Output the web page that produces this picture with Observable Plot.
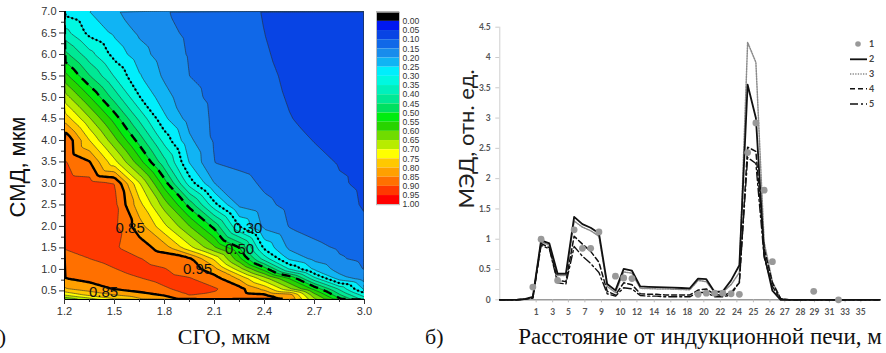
<!DOCTYPE html>
<html><head><meta charset="utf-8">
<script src="https://cdn.jsdelivr.net/npm/d3@7"></script>
<script src="https://cdn.jsdelivr.net/npm/@observablehq/plot@0.6"></script>
<style>
body{margin:0;background:#fff;}
#wrap{position:relative;width:886px;height:353px;overflow:hidden;background:#fff;}
#wrap > svg, #wrap > div{position:absolute;}
</style></head><body><div id="wrap"></div>
<script>
// ---------- Panel а): contour map data ----------
const sgo = [1.2, 1.35, 1.5, 1.65, 1.8, 1.95, 2.1, 2.25, 2.4, 2.55, 2.7, 2.85, 3.0];
const smd = [7.0, 6.5, 6.0, 5.5, 5.0, 4.5, 4.0, 3.5, 3.0, 2.5, 2.0, 1.5, 1.25, 1.0, 0.8, 0.55, 0.4, 0.3];
const z_7_0  = [0.283, 0.25, 0.206, 0.178, 0.153, 0.139, 0.125, 0.111, 0.098, 0.091, 0.084, 0.079, 0.075];
const z_6_5  = [0.37, 0.285, 0.241, 0.192, 0.162, 0.142, 0.128, 0.114, 0.1, 0.093, 0.087, 0.081, 0.077];
const z_6_0  = [0.468, 0.369, 0.282, 0.221, 0.175, 0.146, 0.132, 0.117, 0.102, 0.094, 0.088, 0.083, 0.078];
const z_5_5  = [0.569, 0.453, 0.346, 0.255, 0.191, 0.15, 0.135, 0.12, 0.105, 0.096, 0.089, 0.084, 0.079];
const z_5_0  = [0.676, 0.555, 0.43, 0.303, 0.22, 0.163, 0.139, 0.123, 0.108, 0.098, 0.091, 0.085, 0.08];
const z_4_5  = [0.783, 0.657, 0.53, 0.389, 0.261, 0.179, 0.142, 0.128, 0.115, 0.101, 0.094, 0.088, 0.082];
const z_4_0  = [0.899, 0.751, 0.616, 0.479, 0.331, 0.211, 0.144, 0.132, 0.121, 0.11, 0.099, 0.093, 0.088];
const z_3_5  = [0.905, 0.853, 0.715, 0.57, 0.415, 0.246, 0.149, 0.139, 0.128, 0.118, 0.108, 0.098, 0.094];
const z_3_0  = [0.925, 0.92, 0.901, 0.704, 0.524, 0.327, 0.2, 0.166, 0.143, 0.13, 0.117, 0.103, 0.095];
const z_2_5  = [0.93, 0.93, 0.915, 0.768, 0.627, 0.483, 0.317, 0.19, 0.159, 0.14, 0.126, 0.111, 0.097];
const z_2_0  = [0.93, 0.93, 0.91, 0.823, 0.712, 0.602, 0.485, 0.3, 0.186, 0.148, 0.134, 0.12, 0.105];
const z_1_5  = [0.902, 0.91, 0.905, 0.877, 0.825, 0.717, 0.61, 0.502, 0.289, 0.19, 0.161, 0.145, 0.135];
const z_1_25 = [0.885, 0.9, 0.915, 0.902, 0.881, 0.858, 0.738, 0.562, 0.374, 0.24, 0.186, 0.154, 0.14];
const z_1_0  = [0.865, 0.88, 0.898, 0.915, 0.903, 0.876, 0.821, 0.676, 0.531, 0.35, 0.242, 0.18, 0.148];
const z_0_8  = [0.85, 0.866, 0.884, 0.899, 0.915, 0.902, 0.867, 0.787, 0.664, 0.542, 0.359, 0.219, 0.17];
const z_0_55 = [0.795, 0.826, 0.853, 0.874, 0.895, 0.915, 0.905, 0.867, 0.782, 0.658, 0.533, 0.388, 0.24];
const z_0_4  = [0.7, 0.76, 0.797, 0.826, 0.853, 0.9, 0.893, 0.876, 0.861, 0.83, 0.621, 0.461, 0.33];
const z_0_3  = [0.6, 0.67, 0.74, 0.79, 0.82, 0.87, 0.89, 0.875, 0.862, 0.85, 0.66, 0.52, 0.38];
const zRows = [z_7_0, z_6_5, z_6_0, z_5_5, z_5_0, z_4_5, z_4_0, z_3_5, z_3_0, z_2_5, z_2_0, z_1_5, z_1_25, z_1_0, z_0_8, z_0_55, z_0_4, z_0_3];

const levels = [0, 0.05, 0.1, 0.15, 0.2, 0.25, 0.3, 0.35, 0.4, 0.45, 0.5, 0.55, 0.6, 0.65, 0.7, 0.75, 0.8, 0.85, 0.9, 0.95];
const bandColors = ["#0018f0", "#0844e4", "#1068e8", "#188cec", "#10b4f4", "#00eefc", "#00f8e0", "#00f0bc", "#00e894", "#00e060",
                    "#00ec10", "#28d400", "#70dc00", "#b8ec00", "#ffff00", "#ffc800", "#ffa000", "#ff7000", "#ff3800", "#ff0000"];
const cbTicks = [0, 0.05, 0.1, 0.15, 0.2, 0.25, 0.3, 0.35, 0.4, 0.45, 0.5, 0.55, 0.6, 0.65, 0.7, 0.75, 0.8, 0.85, 0.9, 0.95, 1.0];
const xTicksA = [1.2, 1.5, 1.8, 2.1, 2.4, 2.7, 3.0];
const xMinorA = [1.35, 1.65, 1.95, 2.25, 2.55, 2.85];
const yTicksA = [0.5, 1.0, 1.5, 2.0, 2.5, 3.0, 3.5, 4.0, 4.5, 5.0, 5.5, 6.0, 6.5, 7.0];
const yMinorA = [0.75, 1.25, 1.75, 2.25, 2.75, 3.25, 3.75, 4.25, 4.75, 5.25, 5.75, 6.25, 6.75];
const contourLabelText = ["0.85", "0.30", "0.50", "0.95", "0.85"];
const contourLabelX = [1.594, 2.30, 2.25, 1.998, 1.434];
const contourLabelY = [1.97, 1.97, 1.48, 1.0, 0.47];

// ---------- Panel б): line chart data ----------
const pos = [0,1,2,3,4,5,6,7,8,9,10,11,12,13,14,15,16,17,18,19,20,21,22,23,24,25,26,27,28,29,30,31,32,33,34,35,36,37,38,39,40,41,42,43,44,45,46];
const s2 = [0,0,0,0.01,0.05,0.98,0.93,0.43,0.43,1.37,1.25,1.19,1.1,0.26,0.155,0.51,0.48,0.22,0.215,0.21,0.205,0.2,0.195,0.19,0.35,0.34,0.13,0.14,0.32,0.57,3.55,3.0,0.75,0.15,0,0,0,0,0,0,0,0,0,0,0,0,0];
const s3 = [0,0,0,0.01,0.04,0.96,0.9,0.4,0.4,1.3,1.2,1.14,1.05,0.22,0.12,0.46,0.44,0.19,0.185,0.18,0.18,0.175,0.17,0.165,0.32,0.3,0.12,0.13,0.25,0.45,4.25,3.92,0.95,0.3,0.02,0,0,0,0,0,0,0,0,0,0,0,0];
const s4 = [0,0,0,0.01,0.03,0.93,0.86,0.32,0.3,1.05,0.92,0.8,0.62,0.14,0.08,0.28,0.25,0.1,0.09,0.09,0.08,0.08,0.08,0.08,0.16,0.18,0.09,0.07,0.12,0.28,2.52,2.45,0.85,0.28,0.02,0,0,0,0,0,0,0,0,0,0,0,0];
const s5 = [0,0,0,0.01,0.03,0.9,0.84,0.28,0.26,0.88,0.72,0.6,0.45,0.1,0.06,0.2,0.18,0.07,0.06,0.06,0.05,0.05,0.05,0.05,0.12,0.12,0.05,0.05,0.08,0.3,2.35,2.25,0.7,0.22,0.01,0,0,0,0,0,0,0,0,0,0,0,0];
const dotPos = [4,5,7,9,10,11,12,14,15,16,24,25,26,27,28,29,30,31,32,33,38,41];
const s1 = [0.21,1.0,0.32,1.155,0.85,0.85,1.12,0.39,0.36,0.35,0.09,0.11,0.11,0.11,0.10,0.09,2.43,2.92,1.81,0.63,0.14,0.0];
const xTickPosB = [4.4, 6.4, 8.3, 10.3, 12.3, 14.6, 16.6, 18.7, 20.7, 22.7, 24.7, 26.7, 28.7, 30.7, 32.7, 34.5, 36.4, 38.1, 39.9, 41.8, 43.7];
const xTickLabelB = ["1","3","5","7","9","10","12","14","16","18","20","22","24","25","26","27","28","29","31","33","35"];
const yTicksB = [0, 0.5, 1, 1.5, 2, 2.5, 3, 3.5, 4, 4.5];
const legendLabels = ["1", "2", "3", "4", "5"];

// ---------- build ----------
const wrap = document.getElementById("wrap");
const grid = [];
zRows.forEach((row, j) => row.forEach((v, i) => grid.push({x: sgo[i], y: smd[j], v})));
const cOpt = {x: "x", y: "y", interpolate: "barycentric", x1: 1.14, x2: 3.06, y1: 0.2, y2: 7.1, clip: true};

const left = Plot.plot({
  width: 372, height: 322, marginLeft: 64, marginRight: 8, marginTop: 11, marginBottom: 23,
  x: {domain: [1.2, 3.0]},
  y: {domain: [0.3, 7.0]},
  color: {type: "ordinal", domain: levels, range: bandColors},
  style: {fontFamily: "'Liberation Sans', Arial, sans-serif", fontSize: "11px", background: "transparent", overflow: "visible"},
  marks: [
    Plot.contour(grid, {...cOpt, fill: "v", thresholds: levels}),
    Plot.contour(grid, {...cOpt, value: "v", thresholds: levels.slice(1), fill: "none", stroke: "#2a2a2a", strokeWidth: 0.6}),
    Plot.contour(grid, {...cOpt, value: "v", thresholds: [0.3], fill: "none", stroke: "#000", strokeWidth: 2.3, strokeDasharray: "0.1,4.2", strokeLinecap: "round"}),
    Plot.contour(grid, {...cOpt, value: "v", thresholds: [0.5], fill: "none", stroke: "#000", strokeWidth: 2.4, strokeDasharray: "9,6"}),
    Plot.contour(grid, {...cOpt, value: "v", thresholds: [0.85], fill: "none", stroke: "#000", strokeWidth: 2.4}),
    Plot.text(contourLabelText, {x: (d, i) => contourLabelX[i], y: (d, i) => contourLabelY[i], text: d => d, fontSize: 15, fill: "#111"}),
    Plot.ruleX([1.2], {stroke: "#000"}),
    Plot.ruleY([0.3], {stroke: "#000"}),
    Plot.axisX({ticks: xTicksA, tickFormat: ".1f", tickSize: 5, tickPadding: 3, label: null, color: "#333"}),
    Plot.axisX({ticks: xMinorA, tickFormat: () => "", tickSize: 3, label: null, color: "#333"}),
    Plot.axisY({ticks: yTicksA, tickFormat: ".1f", tickSize: 5, tickPadding: 3, label: null, color: "#333"}),
    Plot.axisY({ticks: yMinorA, tickFormat: () => "", tickSize: 3, label: null, color: "#333"})
  ]
});
left.style.left = "0px"; left.style.top = "0px";
wrap.appendChild(left);

const cbLo = [-0.05, ...levels];
const cbColors = ["#000000", ...bandColors];
const bar = Plot.plot({
  width: 60, height: 216, marginLeft: 10, marginRight: 27, marginTop: 11.7, marginBottom: 11.8,
  x: {axis: null},
  y: {domain: [-0.05, 1.0], reverse: true, axis: null},
  color: {type: "identity"},
  style: {fontFamily: "'Liberation Sans', Arial, sans-serif", background: "transparent", overflow: "visible"},
  marks: [
    Plot.rect(cbLo, {y1: d => d, y2: d => d + 0.05, fill: (d, i) => cbColors[i]}),
    Plot.frame({stroke: "#bbb"}),
    Plot.axisY({anchor: "right", ticks: cbTicks, tickFormat: ".2f", tickSize: 0, tickPadding: 3, fontSize: 8.6, label: null, color: "#333"})
  ]
});
bar.style.left = "366px"; bar.style.top = "0px";
wrap.appendChild(bar);

const lineRows = pos.map((p, i) => ({p, s2: s2[i], s3: s3[i], s4: s4[i], s5: s5[i]}));
const dotRows = dotPos.map((p, i) => ({p, v: s1[i]}));
const right = Plot.plot({
  width: 446, height: 322, marginLeft: 59.3, marginRight: 6.7, marginTop: 26.7, marginBottom: 22.7,
  x: {domain: [0, 46]},
  y: {domain: [0, 4.5]},
  style: {fontFamily: "Lato, 'Open Sans', sans-serif", background: "transparent", overflow: "visible"},
  marks: [
    Plot.ruleX([0], {stroke: "#cfcfcf"}),
    Plot.ruleY([0], {stroke: "#9a9a9a", strokeWidth: 1.5}),
    Plot.axisY({ticks: yTicksB, tickFormat: d => String(d), tickSize: 4, tickPadding: 5, fontSize: 8.5, fontWeight: "bold", label: null, color: "#555", stroke: "#ccc"}),
    Plot.axisX({ticks: xTickPosB, tickFormat: d => xTickLabelB[xTickPosB.indexOf(d)], tickSize: 3, tickPadding: 6, fontSize: 8.5, fontWeight: "bold", label: null, color: "#555", stroke: "#bbb"}),
    Plot.line(lineRows, {x: "p", y: "s3", stroke: "#8a8a8a", strokeWidth: 1.5, strokeDasharray: "1.3,1.3"}),
    Plot.line(lineRows, {x: "p", y: "s5", stroke: "#111", strokeWidth: 1.4, strokeDasharray: "8,3,2,3"}),
    Plot.line(lineRows, {x: "p", y: "s4", stroke: "#111", strokeWidth: 1.5, strokeDasharray: "5,3"}),
    Plot.line(lineRows, {x: "p", y: "s2", stroke: "#111", strokeWidth: 1.8}),
    Plot.dot(dotRows, {x: "p", y: "v", r: 3.4, fill: "#999", stroke: "none"})
  ]
});
right.style.left = "440px"; right.style.top = "0px";
wrap.appendChild(right);

// ---------- overlay texts & legend ----------
const ov = d3.create("svg").attr("width", 886).attr("height", 353).style("left", "0px").style("top", "0px").style("pointer-events", "none");
const serif = "'Liberation Serif', 'Times New Roman', serif";
ov.append("text").attr("x", 224).attr("y", 344).attr("text-anchor", "middle").attr("font-family", serif).attr("font-size", 22).attr("fill", "#111").text("СГО, мкм");
ov.append("text").attr("x", 6).attr("y", 344).attr("text-anchor", "end").attr("font-family", serif).attr("font-size", 22).attr("fill", "#111").text("а)");
ov.append("text").attr("x", 425).attr("y", 344).attr("font-family", serif).attr("font-size", 22).attr("fill", "#111").text("б)");
ov.append("text").attr("x", 700).attr("y", 344).attr("text-anchor", "middle").attr("font-family", serif).attr("font-size", 23).attr("fill", "#111").text("Расстояние от индукционной печи, м");
ov.append("text").attr("transform", "translate(25,167) rotate(-90)").attr("text-anchor", "middle").attr("font-family", "'Liberation Sans', Arial, sans-serif").attr("font-size", 22).attr("fill", "#111").text("СМД, мкм");
ov.append("text").attr("transform", "translate(474,139) rotate(-90)").attr("text-anchor", "middle").attr("font-family", "Lato, 'Open Sans', sans-serif").attr("font-size", 22).attr("fill", "#222").text("МЭД, отн. ед.");
const legY = [44, 59.3, 74, 88.7, 104];
const legStyles = [null, {c: "#111", w: 1.8, d: null}, {c: "#8a8a8a", w: 1.5, d: "1.3,1.3"}, {c: "#111", w: 1.5, d: "5,3"}, {c: "#111", w: 1.4, d: "8,3,2,3"}];
legendLabels.forEach((lab, i) => {
  if (i === 0) ov.append("circle").attr("cx", 858).attr("cy", legY[i]).attr("r", 2.8).attr("fill", "#999");
  else {
    const s = legStyles[i];
    const l = ov.append("line").attr("x1", 850).attr("x2", 867).attr("y1", legY[i]).attr("y2", legY[i]).attr("stroke", s.c).attr("stroke-width", s.w);
    if (s.d) l.attr("stroke-dasharray", s.d);
  }
  ov.append("text").attr("x", 869).attr("y", legY[i] + 3).attr("font-family", "Lato, 'Open Sans', sans-serif").attr("font-weight", "bold").attr("font-size", 9).attr("fill", "#444").text(lab);
});
wrap.appendChild(ov.node());
</script>
</body></html>
